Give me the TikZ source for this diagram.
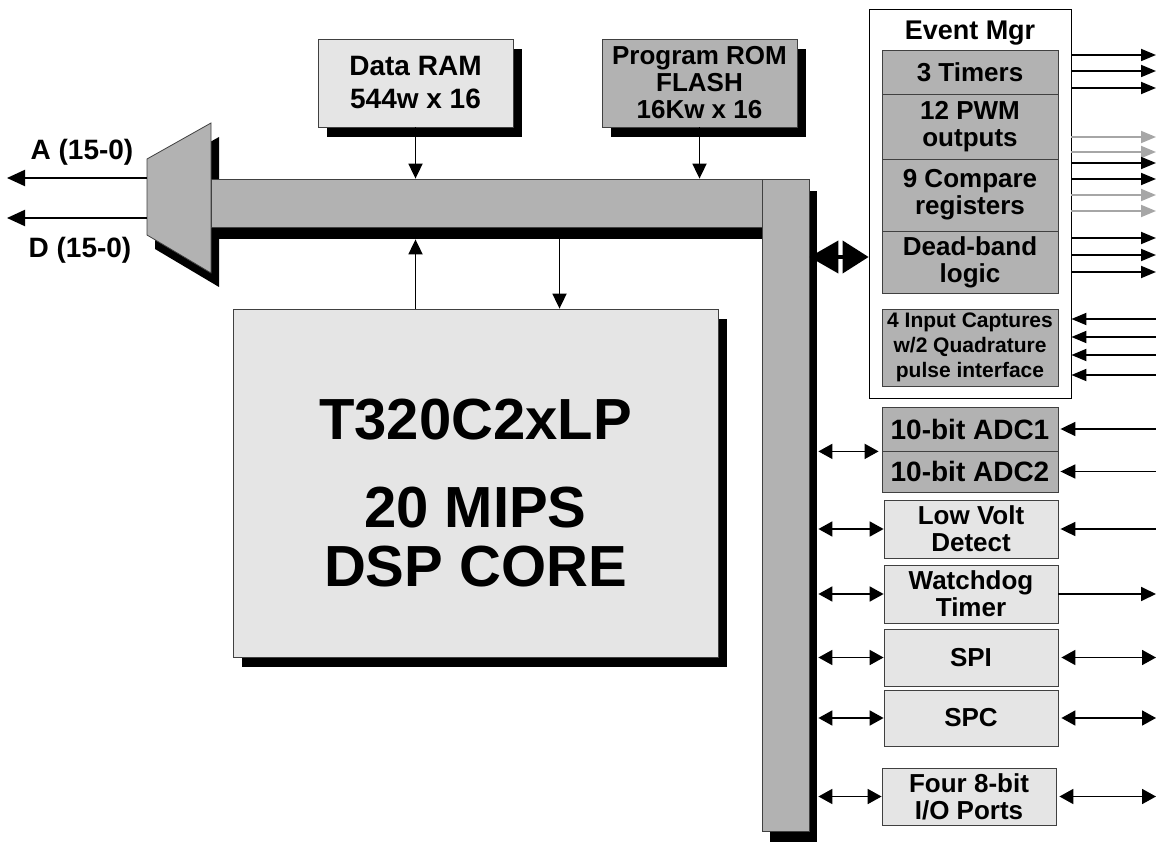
\documentclass[tikz,border=0pt]{standalone}
\usepackage{fontspec}
\setmainfont{Liberation Sans}
\usetikzlibrary{arrows.meta,shadows}

\begin{document}
\begin{tikzpicture}[x=1pt,y=-1pt]
    \tikzstyle{blk}=[draw=black!75,line width=0.8pt,inner sep=0pt,align=center,font=\bfseries\fontsize{26}{27}\selectfont]
    \tikzstyle{lite}=[blk,fill=gray!20]
    \tikzstyle{dark}=[blk,fill=gray!60]
    \tikzstyle{shadowed}=[drop shadow={shadow xshift=9pt,shadow yshift=-10pt,fill=black,opacity=1}]
    \tikzstyle{bus}=[draw=black!75,line width=0.8pt,fill=gray!60,drop shadow={shadow xshift=8pt,shadow yshift=-12pt,fill=black,opacity=1}]
    \tikzstyle{arr}=[line width=1.8pt,-{Triangle[length=15pt,width=14pt]}]
    \tikzstyle{biarr}=[line width=1.8pt,{Triangle[length=14pt,width=15pt]}-{Triangle[length=14pt,width=15pt]}]
    \useasboundingbox (0,0) rectangle (1156,842);

    % address/data multiplexer
    \fill (155,173) -- (219,137) -- (219,287) -- (155,249) -- cycle;
    \draw[fill=gray!60,draw=black!75,line width=0.8pt] (147,159) -- (211,123) -- (211,273) -- (147,235) -- cycle;
    \coordinate (muxA) at (147,178);
    \coordinate (muxD) at (147,218);
    \coordinate (pinA) at (7,178);
    \coordinate (pinD) at (7,218);
    \draw[line width=2pt,-{Triangle[length=18pt,width=16pt]}] (muxA) -- (pinA);
    \draw[line width=2pt,-{Triangle[length=18pt,width=16pt]}] (muxD) -- (pinD);
    \node[font=\bfseries\fontsize{28}{30}\selectfont] (labA) at (82,152) {A (15-0)};
    \node[font=\bfseries\fontsize{28}{30}\selectfont] (labD) at (80,250) {D (15-0)};

    % buses
    \node[bus,minimum width=551pt,minimum height=48pt] (hbus) at (486.5,203) {};
    \node[bus,minimum width=47pt,minimum height=652pt] (vbus) at (785.5,505) {};

    % memories and core
    \node[lite,shadowed,minimum width=195pt,minimum height=88pt,font=\bfseries\fontsize{28}{33}\selectfont] (dram) at (415.5,83) {Data RAM\\544w x 16};
    \node[dark,shadowed,minimum width=195pt,minimum height=88pt,font=\bfseries\fontsize{26}{27}\selectfont] (prom) at (699.5,83) {Program ROM\\FLASH\\16Kw x 16};
    \node[lite,shadowed,minimum width=485pt,minimum height=348pt] (core) at (475.5,483) {};
    \node[font=\bfseries\fontsize{58}{59}\selectfont,align=center] (coretxt) at ([yshift=-10pt]core.center) {T320C2xLP\\[29pt]20 MIPS\\DSP CORE};

    \coordinate (hbot) at ([yshift=-12pt]hbus.south);
    \coordinate (tap) at ([xshift=84pt]core.north);
    \draw[arr] (dram.south) -- (dram.south |- hbus.north);
    \draw[arr] (prom.south) -- (prom.south |- hbus.north);
    \draw[arr] (core.north -| dram.south) -- (hbot -| dram.south);
    \draw[arr] (hbot -| tap) -- (tap);

    % event manager
    \node[draw=black,line width=0.8pt,fill=white,minimum width=202pt,minimum height=389pt] (em) at (970,203.5) {};
    \node[font=\bfseries\fontsize{27}{28}\selectfont] (emt) at (970,33) {Event Mgr};
    \node[dark,minimum width=176pt,minimum height=44pt] (tmr) at (970,72) {3 Timers};
    \node[dark,minimum width=176pt,minimum height=65pt] (pwm) at (970,126.5) {12 PWM\\outputs};
    \node[dark,minimum width=176pt,minimum height=72pt] (cmp) at (970,195) {9 Compare\\registers};
    \node[dark,minimum width=176pt,minimum height=62pt] (dbl) at (970,262) {Dead-band\\logic};
    \node[dark,minimum width=176pt,minimum height=77pt,font=\bfseries\fontsize{21}{25}\selectfont] (cap) at (970,347.5) {4 Input Captures\\w/2 Quadrature\\pulse interface};
    \draw[line width=4pt,{Triangle[length=29pt,width=32pt]}-{Triangle[length=26pt,width=32pt]}] (vbus.east |- 0,257) -- (em.west |- 0,257);

    % peripherals
    \node[dark,minimum width=176pt,minimum height=44pt,font=\bfseries\fontsize{28}{29}\selectfont] (adc1) at (970,429) {10-bit ADC1};
    \node[dark,minimum width=176pt,minimum height=41pt,font=\bfseries\fontsize{28}{29}\selectfont] (adc2) at (970,471.5) {10-bit ADC2};
    \node[lite,minimum width=174pt,minimum height=58pt] (lvd) at (971,529) {Low Volt\\Detect};
    \node[lite,minimum width=174pt,minimum height=58pt] (wdt) at (971,594) {Watchdog\\Timer};
    \node[lite,minimum width=174pt,minimum height=57pt] (spi) at (971,657.5) {SPI};
    \node[lite,minimum width=174pt,minimum height=56pt] (spc) at (971,718) {SPC};
    \node[lite,minimum width=174pt,minimum height=57pt] (io) at (969,796.5) {Four 8-bit\\I/O Ports};

    \coordinate (edge) at (1156,0);
    \coordinate (vb) at ([xshift=9pt]vbus.east);
    \draw[biarr] (vb |- adc1.south west) -- ([xshift=-3pt]adc1.south west);
    \foreach \n in {lvd,wdt,spi,spc,io}
        \draw[biarr] (vb |- \n.west) -- (\n.west);
    \foreach \n in {adc1,adc2,lvd}
        \draw[arr] (edge |- \n.east) -- ([xshift=2pt]\n.east);
    \draw[arr] (wdt.east) -- (edge |- wdt.east);
    \foreach \n in {spi,spc,io}
        \draw[biarr] ([xshift=3pt]\n.east) -- (edge |- \n.east);

    % event manager pins
    \foreach \yy/\cc in {55/black,71/black,88/black,137/black!35,152/black!35,163/black,179/black,195/black!35,211/black!35,238/black,255/black,272/black}
        \draw[arr,color=\cc,-{Triangle[length=15pt,width=12pt]}] (em.east |- 0,\yy) -- (edge |- 0,\yy);
    \foreach \yy in {319,337,355,375}
        \draw[arr,-{Triangle[length=15pt,width=12pt]}] (edge |- 0,\yy) -- (em.east |- 0,\yy);
\end{tikzpicture}
\end{document}
